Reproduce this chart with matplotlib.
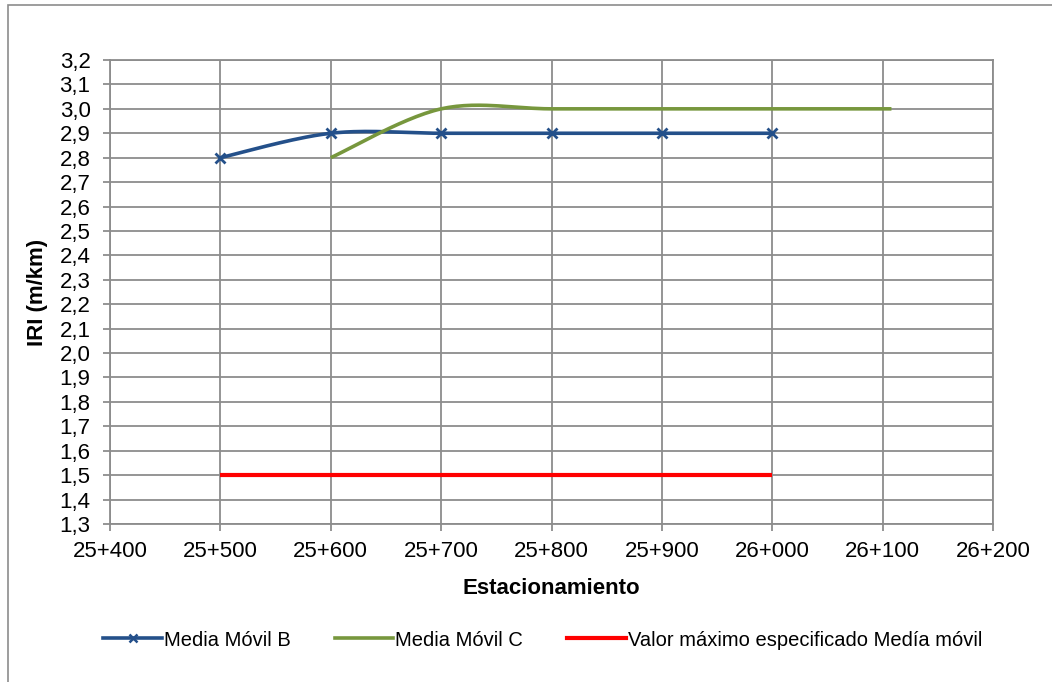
import numpy as np
import matplotlib.pyplot as plt
from matplotlib.patches import Rectangle
from matplotlib.lines import Line2D
from matplotlib.ticker import MultipleLocator, FuncFormatter

plt.rcParams['font.family'] = ['Liberation Sans', 'DejaVu Sans']

# Estaciones (m) y medias móviles de IRI
est_b = [25500, 25600, 25700, 25800, 25900, 26000]
iri_b = [2.8, 2.9, 2.9, 2.9, 2.9, 2.9]

est_c = [25600, 25700, 25800, 25900, 26000, 26108]
iri_c = [2.8, 3.0, 3.0, 3.0, 3.0, 3.0]

est_lim = [25500, 26000]
iri_lim = [1.5, 1.5]

labels = ["Media Móvil B", "Media Móvil C",
          "Valor máximo especificado Medía móvil"]


def suavizar(x, y, n=30):
    # curva suavizada tipo Excel (Bezier con puntos de control a 1/6)
    p = np.column_stack([x, y]).astype(float)
    pts = [p[0]]
    for i in range(len(p) - 1):
        p0 = p[i - 1] if i > 0 else p[i]
        p3 = p[i + 2] if i + 2 < len(p) else p[i + 1]
        c1 = p[i] + (p[i + 1] - p0) / 6
        c2 = p[i + 1] - (p3 - p[i]) / 6
        t = np.linspace(0, 1, n)[1:, None]
        seg = ((1 - t) ** 3 * p[i] + 3 * (1 - t) ** 2 * t * c1
               + 3 * (1 - t) * t ** 2 * c2 + t ** 3 * p[i + 1])
        pts.extend(seg)
    pts = np.array(pts)
    return pts[:, 0], pts[:, 1]


AZUL = '#24508A'
VERDE = '#77973D'
ROJO = '#FF0000'
GRIS = '#8C8C8C'

fig = plt.figure(figsize=(10.52, 6.82), dpi=100)
ax = fig.add_axes([110 / 1052, 1 - 524 / 682, 883 / 1052, 464 / 682])

# marco del gráfico
fig.patches.append(Rectangle((8 / 1052, -0.1), 1.2, (682 - 5) / 682 + 0.1,
                             transform=fig.transFigure, fill=False,
                             edgecolor=GRIS, lw=1.2))

xb, yb = suavizar(est_b, iri_b)
ax.plot(xb, yb, color=AZUL, lw=2.6, solid_capstyle='butt', zorder=3)
ax.plot(est_b, iri_b, ls='none', marker='x', ms=7, mew=2, color=AZUL, zorder=4)

xc, yc = suavizar(est_c, iri_c)
ax.plot(xc, yc, color=VERDE, lw=2.6, solid_capstyle='butt', zorder=3)

ax.plot(est_lim, iri_lim, color=ROJO, lw=3, solid_capstyle='butt', zorder=3)

ax.set_xlim(25400, 26200)
ax.set_ylim(1.3, 3.2)
ax.xaxis.set_major_locator(MultipleLocator(100))
ax.yaxis.set_major_locator(MultipleLocator(0.1))
ax.xaxis.set_major_formatter(FuncFormatter(
    lambda v, p: f"{int(round(v)) // 1000}+{int(round(v)) % 1000:03d}"))
ax.yaxis.set_major_formatter(FuncFormatter(
    lambda v, p: f"{v:.1f}".replace('.', ',')))

ax.grid(True, color=GRIS, lw=1.3)
ax.set_axisbelow(True)
for s in ax.spines.values():
    s.set_color(GRIS)
    s.set_linewidth(1.3)
ax.tick_params(axis='both', direction='out', length=5, width=1.3,
               color=GRIS, labelsize=16, labelcolor='black')
ax.tick_params(axis='x', pad=7)
ax.tick_params(axis='y', pad=9)

ax.set_xlabel("Estacionamiento", fontsize=16, fontweight='bold', labelpad=12)
ax.set_ylabel("IRI (m/km)", fontsize=16, fontweight='bold', labelpad=8)

handles = [
    Line2D([], [], color=AZUL, lw=2.6, marker='x', ms=6, mew=1.8),
    Line2D([], [], color=VERDE, lw=2.6),
    Line2D([], [], color=ROJO, lw=3),
]
fig.legend(handles, labels, loc='center', bbox_to_anchor=(0.516, 1 - 640 / 682),
           ncol=3, frameon=False, fontsize=14.5, handlelength=2.9,
           handletextpad=0.1, columnspacing=2.2)

fig.savefig("out.png", dpi=100)
